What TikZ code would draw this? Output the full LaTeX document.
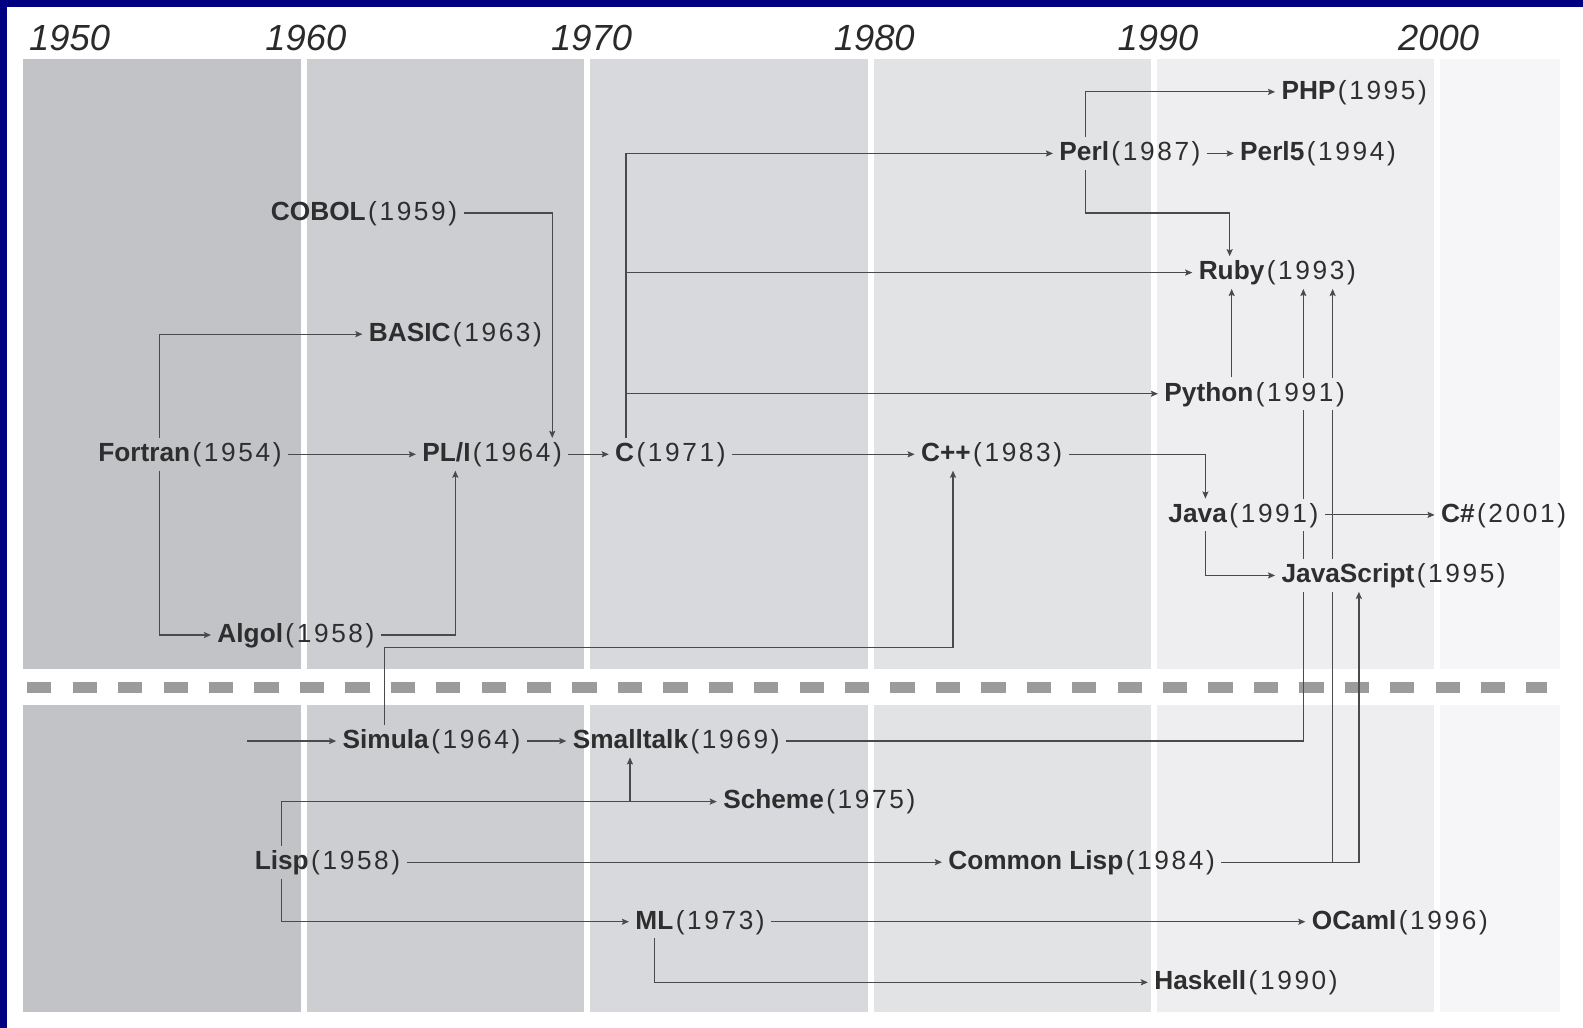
\documentclass[tikz,border=0pt]{standalone}
\usepackage{fontspec}
\setmainfont{Liberation Sans}
\usetikzlibrary{arrows.meta,positioning,backgrounds}
\pgfdeclarelayer{panels}
\pgfdeclarelayer{links}
\pgfsetlayers{panels,links,main}
\definecolor{frameblue}{HTML}{000080}
\definecolor{decA}{HTML}{C2C3C7}
\definecolor{decB}{HTML}{CDCED1}
\definecolor{decC}{HTML}{D8D9DC}
\definecolor{decD}{HTML}{E2E3E5}
\definecolor{decE}{HTML}{EEEEF0}
\definecolor{decF}{HTML}{F6F6F8}
\definecolor{ink}{HTML}{2E2E2E}
\definecolor{yearink}{HTML}{2A2A2A}
\definecolor{wirecol}{HTML}{4A4A4A}
\definecolor{dashgray}{HTML}{9B9B9B}
\newcommand{\plang}[2]{\textbf{#1}\kern1.2pt{\addfontfeatures{LetterSpace=10}(#2)}}

\begin{document}
\begin{tikzpicture}[x=0.5pt, y=-0.5pt,
    lang/.style={anchor=west, inner xsep=3pt, inner ysep=4.3pt, text height=0.72em, text depth=0pt, font=\fontsize{13}{15}\selectfont, text=ink},
    cut/.style={lang, fill=decE},
    yearlbl/.style={font=\fontsize{18}{20}\selectfont\itshape, text=yearink},
    arr/.style={-{Stealth[length=3.5pt, width=3pt, inset=0.6pt]}, line width=0.6pt, draw=wirecol},
    sepline/.style={line width=5pt, draw=dashgray, dash pattern=on 12pt off 10.5pt}
]
\useasboundingbox (0,0) rectangle (1568,1018);

% decade panels
\begin{pgfonlayer}{panels}
\fill[frameblue] (0,0) rectangle (1568,7);
\fill[frameblue] (0,0) rectangle (7,1018);
\foreach \xa/\xb/\col in {23/298/decA, 304/578/decB, 584/860/decC, 866/1140/decD, 1146/1420/decE, 1426/1545/decF} {
  \fill[\col] (\xa,58) rectangle (\xb,663);
  \fill[\col] (\xa,698) rectangle (\xb,1002);
}
\draw[sepline] (27,681) -- (1532,681);
\end{pgfonlayer}

\foreach \x/\yr in {69/1950, 303/1960, 586/1970, 866/1980, 1147/1990, 1425/2000}
  \node[yearlbl] (y\yr) at (\x,38) {\yr};

% upper half
\node[lang] (fortran) at (91,450) {\plang{Fortran}{1954}};
\node[lang] (cobol) at (262,211) {\plang{COBOL}{1959}};
\node[lang] (basic) at (359,331) {\plang{BASIC}{1963}};
\node[lang] (algol) at (209,629) {\plang{Algol}{1958}};
\node[lang] (pli) at (412,450) {\plang{PL/I}{1964}};
\node[lang] (c) at (603,450) {\plang{C}{1971}};
\node[lang] (cpp) at (906,450) {\plang{C++}{1983}};
\node[lang] (perl) at (1043,152) {\plang{Perl}{1987}};
\node[lang] (perlv) at (1222,152) {\plang{Perl5}{1994}};
\node[lang] (php) at (1263,91) {\plang{PHP}{1995}};
\node[lang] (ruby) at (1181,270) {\plang{Ruby}{1993}};
\node[cut] (python) at (1147,390) {\plang{Python}{1991}};
\node[cut] (java) at (1151,510) {\plang{Java}{1991}};
\node[lang] (csharp) at (1421,510) {\plang{C\#}{2001}};
\node[lang] (js) at (1263,570) {\plang{JavaScript}{1995}};

% lower half
\coordinate (simin) at (245,734);
\node[lang] (simula) at (333,734) {\plang{Simula}{1964}};
\node[lang] (smalltalk) at (561,734) {\plang{Smalltalk}{1969}};
\node[lang] (scheme) at (710,794) {\plang{Scheme}{1975}};
\node[lang] (lisp) at (246,854) {\plang{Lisp}{1958}};
\node[lang] (clisp) at (933,854) {\plang{Common Lisp}{1984}};
\node[lang] (ml) at (623,913) {\plang{ML}{1973}};
\node[lang] (ocaml) at (1293,913) {\plang{OCaml}{1996}};
\node[lang] (haskell) at (1137,973) {\plang{Haskell}{1990}};

\begin{pgfonlayer}{links}
\draw[arr] (fortran.north -| 158,0) |- (basic.west);
\draw[arr] (fortran.south -| 158,0) |- (algol.west);
\draw[arr] (fortran.east) -- (pli.west);
\draw[arr] (cobol.east) -| (pli.north -| 547,0);
\draw[arr] (algol.east) -| (pli.south -| 451,0);
\draw[arr] (pli.east) -- (c.west);
\draw[arr] (c.north -| 620,0) |- (perl.west);
\draw[arr] (c.north -| 620,0) |- (ruby.west);
\draw[arr] (c.north -| 620,0) |- (python.west);
\draw[arr] (c.east) -- (cpp.west);
\draw[arr] (cpp.east) -| (java.north -| 1194,0);
\draw[arr] (simula.north -| 381,0) -- (381,641) -| (cpp.south -| 944,0);
\draw[arr] (perl.north -| 1075,0) |- (php.west);
\draw[arr] (perl.east) -- (perlv.west);
\draw[arr] (perl.south -| 1075,0) -- (1075,211) -| (ruby.north -| 1218,0);
\draw[arr] (python.north -| 1220,0) -- (ruby.south -| 1220,0);
\draw[arr] (smalltalk.east) -| (ruby.south -| 1291,0);
\draw[arr] (clisp.east) -| (ruby.south -| 1320,0);
\draw[arr] (clisp.east) -| (js.south -| 1346,0);
\draw[arr] (java.east) -- (csharp.west);
\draw[arr] (java.south -| 1194,0) |- (js.west);
\draw[arr] (simin) -- (simula.west);
\draw[arr] (simula.east) -- (smalltalk.west);
\draw[arr] (lisp.north -| 279,0) |- (scheme.west);
\draw[arr] (lisp.north -| 279,0) |- (624,794) -- (smalltalk.south -| 624,0);
\draw[arr] (lisp.east) -- (clisp.west);
\draw[arr] (lisp.south -| 279,0) |- (ml.west);
\draw[arr] (ml.east) -- (ocaml.west);
\draw[arr] (ml.south -| 648,0) |- (haskell.west);
% gap behind JavaScript
\fill[decE] (js.south west) rectangle (js.north -| 1419,0);
\end{pgfonlayer}
\end{tikzpicture}
\end{document}
